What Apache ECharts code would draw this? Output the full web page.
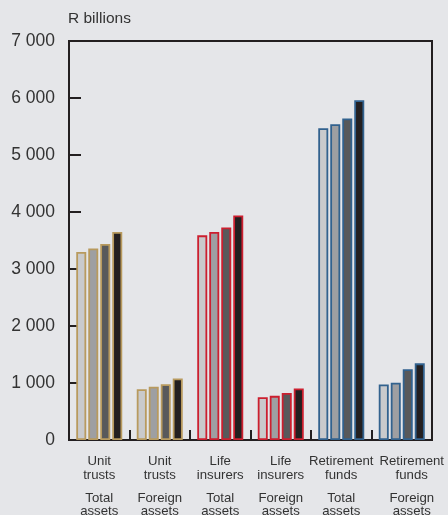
<!DOCTYPE html>
<html>
<head>
<meta charset="utf-8">
<script src="https://cdn.jsdelivr.net/npm/echarts@6/dist/echarts.min.js"></script>
<style>
  html, body { margin: 0; padding: 0; background: #e5e6e9; }
  #chart { width: 448px; height: 515px; }
</style>
</head>
<body>
<div id="chart"></div>
<script>
// Institutions and asset types along the x-axis
const institutions = ['Unit trusts', 'Unit trusts', 'Life insurers', 'Life insurers', 'Retirement funds', 'Retirement funds'];
const assetTypes = ['Total assets', 'Foreign assets', 'Total assets', 'Foreign assets', 'Total assets', 'Foreign assets'];
const categories = institutions.map((name, i) => name + '|' + assetTypes[i]);

// Four successive periods, R billions
const period1 = [3300, 890, 3590, 750, 5470, 975];
const period2 = [3360, 935, 3650, 775, 5540, 1005];
const period3 = [3440, 980, 3730, 825, 5640, 1240];
const period4 = [3650, 1080, 3940, 905, 5960, 1345];

const yTicks = [0, 1000, 2000, 3000, 4000, 5000, 6000, 7000];

// Outline colour per institution
const outline = ['#b89a5e', '#b89a5e', '#cc1f2f', '#cc1f2f', '#32628e', '#32628e'];
const fills = ['#c9cacc', '#9e9fa2', '#58595b', '#231f20'];

const FONT = 'Liberation Sans, Arial, sans-serif';
const chart = echarts.init(document.getElementById('chart'), null, { renderer: 'canvas' });

function makeSeries(values, idx) {
  return {
    type: 'bar',
    barWidth: 10,
    barGap: '20%',
    data: values.map((v, i) => ({
      value: v,
      itemStyle: { color: fills[idx], borderColor: outline[i], borderWidth: 1.8 }
    }))
  };
}

// Two-line institution name, a small gap, then two-line asset type
function categoryLabel(value) {
  const [inst, kind] = value.split('|');
  const two = s => s.split(' ').map(w => '{t|' + w + '}').join('\n');
  return two(inst) + '\n{gap|}\n' + two(kind);
}

// The last label is nudged right so the two "Retirement" words stay apart
const xData = categories.map((c, i) =>
  i === categories.length - 1 ? { value: c, textStyle: { padding: [0, 0, 0, 20] } } : c
);

chart.setOption({
  backgroundColor: '#e5e6e9',
  animation: false,
  textStyle: { fontFamily: FONT },
  graphic: [{
    type: 'text',
    left: 68,
    top: 11,
    style: { text: 'R billions', fontSize: 15.5, fill: '#333', fontFamily: FONT }
  }],
  grid: {
    left: 69, right: 16, top: 41, bottom: 75,
    containLabel: false,
    outerBoundsMode: 'none',
    show: true, borderColor: '#231f20', borderWidth: 2, backgroundColor: 'transparent'
  },
  xAxis: {
    type: 'category',
    data: xData,
    axisLine: { lineStyle: { color: '#231f20', width: 2 } },
    axisTick: { show: true, inside: true, length: 10, interval: 0, lineStyle: { color: '#231f20', width: 2 } },
    axisLabel: {
      interval: 0, color: '#333', margin: 15,
      formatter: categoryLabel,
      rich: {
        t: { fontSize: 13.2, lineHeight: 13.5, color: '#333', fontFamily: FONT },
        gap: { fontSize: 8, lineHeight: 9.5 }
      }
    }
  },
  yAxis: {
    type: 'value',
    min: yTicks[0],
    max: yTicks[yTicks.length - 1],
    interval: 1000,
    splitLine: { show: false },
    axisLine: { show: true, lineStyle: { color: '#231f20', width: 2 } },
    axisTick: { show: true, inside: true, length: 12, lineStyle: { color: '#231f20', width: 2 } },
    axisLabel: {
      color: '#333', fontSize: 17.5, margin: 14,
      formatter: v => String(v).replace(/\B(?=(\d{3})+(?!\d))/g, ' ')
    }
  },
  series: [period1, period2, period3, period4].map(makeSeries)
});
</script>
</body>
</html>
